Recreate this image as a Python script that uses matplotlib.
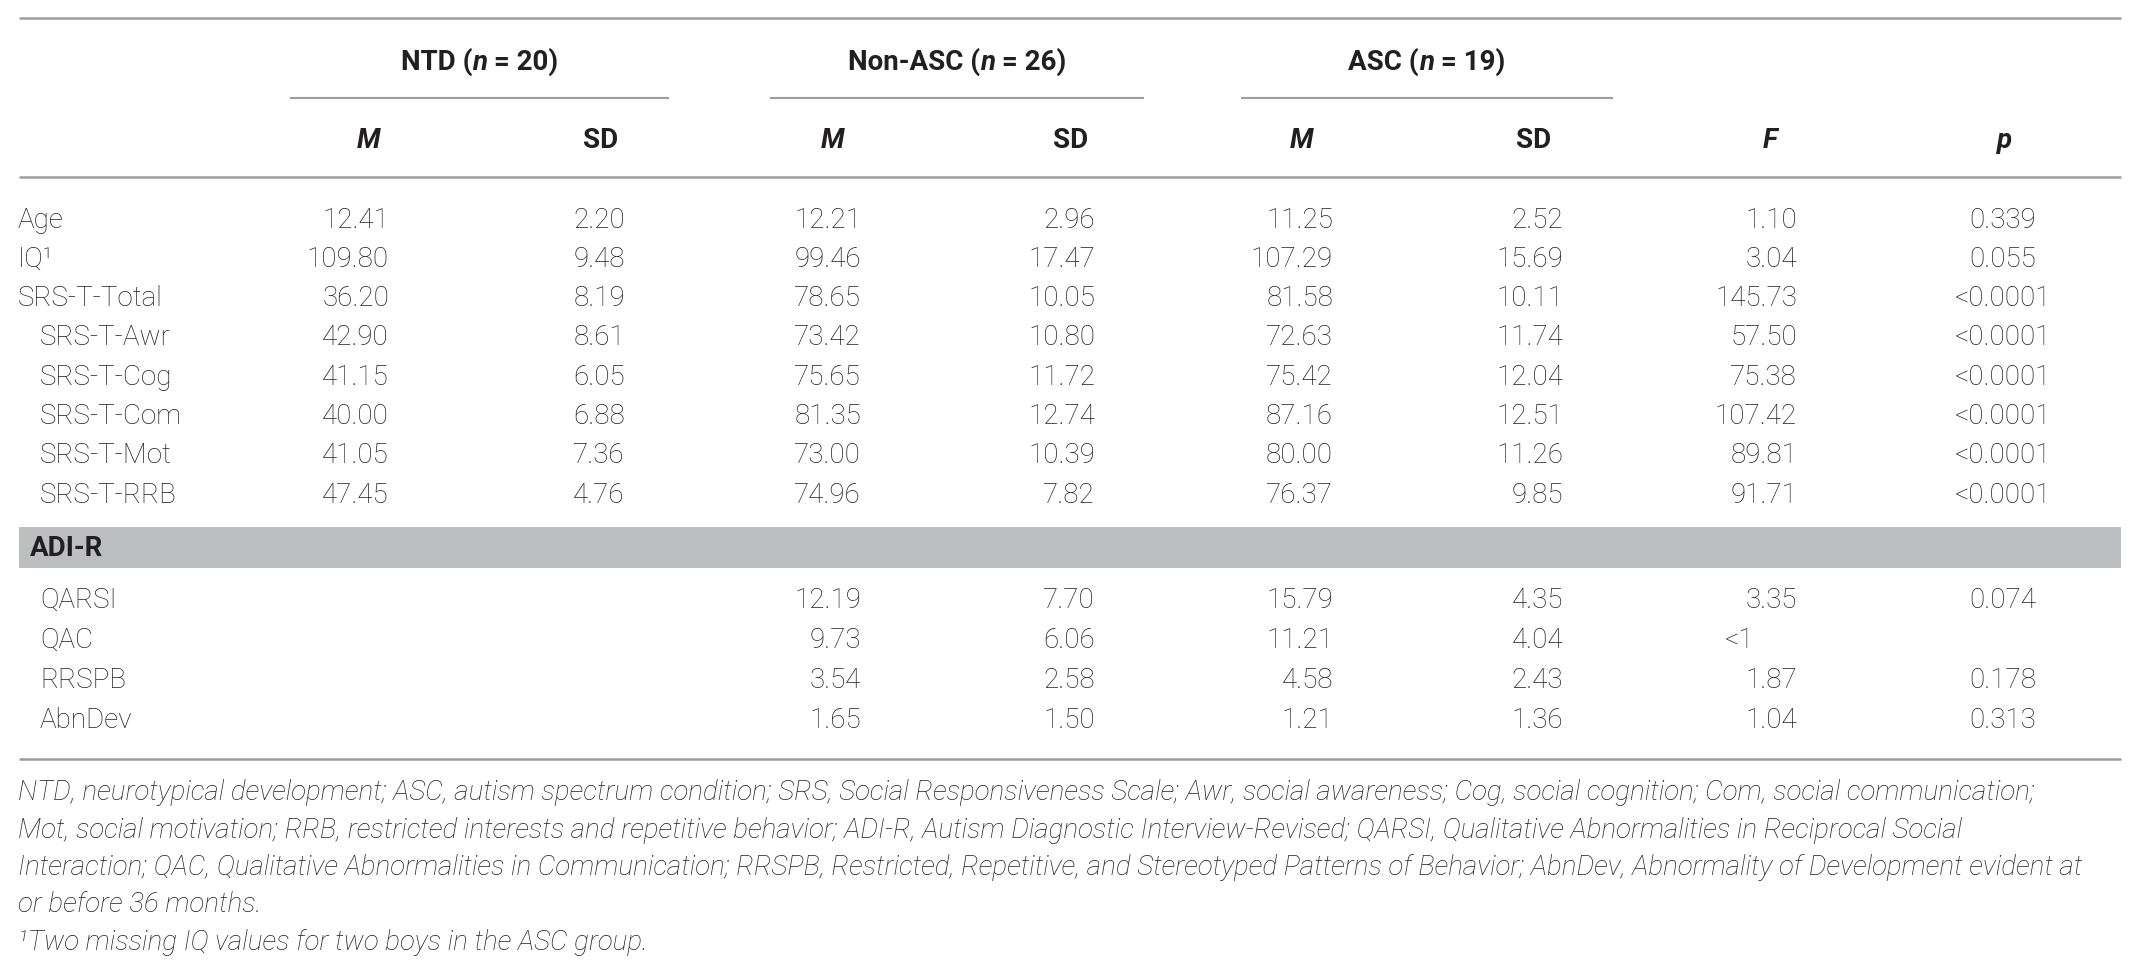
import matplotlib
matplotlib.use("Agg")
import matplotlib.pyplot as plt
from matplotlib.patches import Rectangle

# ---------------- data ----------------
groups = ["NTD", "Non-ASC", "ASC"]
group_n = [20, 26, 19]
row_labels = ["Age", "IQ\u00b9", "SRS-T-Total", "SRS-T-Awr", "SRS-T-Cog",
              "SRS-T-Com", "SRS-T-Mot", "SRS-T-RRB"]
row_indent = [False, False, False, True, True, True, True, True]
ntd_m = ["12.41", "109.80", "36.20", "42.90", "41.15", "40.00", "41.05", "47.45"]
ntd_sd = ["2.20", "9.48", "8.19", "8.61", "6.05", "6.88", "7.36", "4.76"]
non_m = ["12.21", "99.46", "78.65", "73.42", "75.65", "81.35", "73.00", "74.96"]
non_sd = ["2.96", "17.47", "10.05", "10.80", "11.72", "12.74", "10.39", "7.82"]
asc_m = ["11.25", "107.29", "81.58", "72.63", "75.42", "87.16", "80.00", "76.37"]
asc_sd = ["2.52", "15.69", "10.11", "11.74", "12.04", "12.51", "11.26", "9.85"]
f_vals = ["1.10", "3.04", "145.73", "57.50", "75.38", "107.42", "89.81", "91.71"]
p_vals = ["0.339", "0.055", "<0.0001", "<0.0001", "<0.0001", "<0.0001", "<0.0001", "<0.0001"]

section_label = "ADI-R"
adi_labels = ["QARSI", "QAC", "RRSPB", "AbnDev"]
adi_non_m = ["12.19", "9.73", "3.54", "1.65"]
adi_non_sd = ["7.70", "6.06", "2.58", "1.50"]
adi_asc_m = ["15.79", "11.21", "4.58", "1.21"]
adi_asc_sd = ["4.35", "4.04", "2.43", "1.36"]
adi_f = ["3.35", "<1", "1.87", "1.04"]
adi_p = ["0.074", "", "0.178", "0.313"]

footnote_lines = [
    "NTD, neurotypical development; ASC, autism spectrum condition; SRS, Social Responsiveness Scale; Awr, social awareness; Cog, social cognition; Com, social communication;",
    "Mot, social motivation; RRB, restricted interests and repetitive behavior; ADI-R, Autism Diagnostic Interview-Revised; QARSI, Qualitative Abnormalities in Reciprocal Social",
    "Interaction; QAC, Qualitative Abnormalities in Communication; RRSPB, Restricted, Repetitive, and Stereotyped Patterns of Behavior; AbnDev, Abnormality of Development evident at",
    "or before 36 months.",
    "\u00b9Two missing IQ values for two boys in the ASC group.",
]

# ---------------- layout ----------------
W, H = 2140, 974
fig = plt.figure(figsize=(W / 100, H / 100), dpi=100)
ax = fig.add_axes([0, 0, 1, 1])
ax.set_xlim(0, W)
ax.set_ylim(H, 0)
ax.axis("off")

FONT = ["Roboto", "Liberation Sans", "DejaVu Sans"]
TXT = "#231f20"
LINE = "#9e9e9e"
FS = 20
body = dict(family=FONT, fontsize=FS, color=TXT, fontweight="light")
bold = dict(family=FONT, fontsize=FS, color=TXT, fontweight="bold")
bolditalic = dict(family=FONT, fontsize=FS, color=TXT, fontweight="bold", style="italic")
ital = dict(family=FONT, fontsize=20, color=TXT, fontweight="light", style="italic")

renderer = fig.canvas.get_renderer()


def rich(x, y, runs, ha="center"):
    objs, widths = [], []
    for s, p in runs:
        t = ax.text(0, y, s, va="center", ha="left", **p)
        widths.append(t.get_window_extent(renderer).width)
        objs.append(t)
    total = sum(widths)
    start = x - total / 2 if ha == "center" else x
    for t, w in zip(objs, widths):
        t.set_x(start)
        start += w


L, R = 19, 2121
# rules
ax.plot([L, R], [18, 18], color=LINE, lw=1.8, solid_capstyle="butt")
ax.plot([L, R], [177, 177], color=LINE, lw=1.8, solid_capstyle="butt")
ax.plot([L, R], [759, 759], color=LINE, lw=1.8, solid_capstyle="butt")

group_spans = [(290, 669), (770, 1144), (1241, 1613)]
for g, n, (a, b) in zip(groups, group_n, group_spans):
    ax.plot([a, b], [98, 98], color=LINE, lw=1.5, solid_capstyle="butt")
    rich((a + b) / 2, 62, [(g + " (", bold), ("n", bolditalic), (" = %d)" % n, bold)])

# sub headers
sub_hdr = [("M", bolditalic, 369), ("SD", bold, 601), ("M", bolditalic, 833), ("SD", bold, 1071),
           ("M", bolditalic, 1302), ("SD", bold, 1534), ("F", bolditalic, 1770), ("p", bolditalic, 2005)]
for s, p, x in sub_hdr:
    ax.text(x, 140, s, ha="center", va="center", **p)

right_cols = [389, 625, 861, 1095, 1333, 1563, 1797]
P_X = 2003

y0, dy = 220, 39.3
cols = [ntd_m, ntd_sd, non_m, non_sd, asc_m, asc_sd, f_vals]
for i, lab in enumerate(row_labels):
    y = y0 + i * dy
    ax.text(40 if row_indent[i] else 18, y, lab, ha="left", va="center", **body)
    for x, col in zip(right_cols, cols):
        ax.text(x, y, col[i], ha="right", va="center", **body)
    ax.text(P_X, y, p_vals[i], ha="center", va="center", **body)

# section band
ax.add_patch(Rectangle((L, 527), R - L, 41, facecolor="#bdbec0", edgecolor="none"))
ax.text(30, 548, section_label, ha="left", va="center", **bold)

ya, dya = 600, 40
adi_cols = [(861, adi_non_m), (1095, adi_non_sd), (1333, adi_asc_m), (1563, adi_asc_sd)]
for i, lab in enumerate(adi_labels):
    y = ya + i * dya
    ax.text(40, y, lab, ha="left", va="center", **body)
    for x, col in adi_cols:
        ax.text(x, y, col[i], ha="right", va="center", **body)
    if adi_f[i].startswith("<"):
        ax.text(1725, y, adi_f[i], ha="left", va="center", **body)
    else:
        ax.text(1797, y, adi_f[i], ha="right", va="center", **body)
    ax.text(P_X, y, adi_p[i], ha="center", va="center", **body)

# footnotes
for i, line in enumerate(footnote_lines):
    ax.text(18, 793 + i * 37.3, line, ha="left", va="center", **ital)

fig.savefig("out.png", dpi=100, facecolor="white")
